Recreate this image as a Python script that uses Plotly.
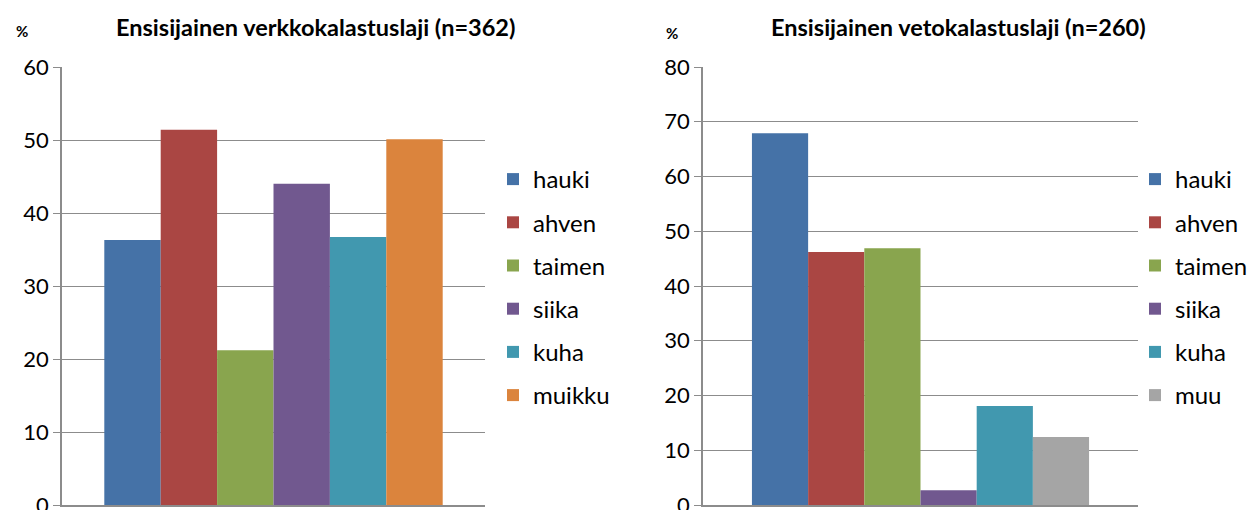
import plotly.graph_objects as go

species_left = ["hauki", "ahven", "taimen", "siika", "kuha", "muikku"]
values_left = [36.3, 51.4, 21.2, 44.0, 36.7, 50.1]
colors_left = ["#4572A7", "#AA4643", "#89A54E", "#71588F", "#4198AF", "#DB843D"]

species_right = ["hauki", "ahven", "taimen", "siika", "kuha", "muu"]
values_right = [67.9, 46.2, 46.9, 2.7, 18.1, 12.4]
colors_right = ["#4572A7", "#AA4643", "#89A54E", "#71588F", "#4198AF", "#A5A5A5"]

title_left = "Ensisijainen verkkokalastuslaji (n=362)"
title_right = "Ensisijainen vetokalastuslaji (n=260)"

FONT = "Lato"
GRID = "#8c8c8c"

fig = go.Figure()

def add_panel(names, vals, cols, xa, ya, legend, group_w):
    n = len(names)
    w = group_w / n
    for i, (nm, v, c) in enumerate(zip(names, vals, cols)):
        fig.add_trace(go.Bar(
            x=[0], y=[v], name=nm, marker=dict(color=c, line=dict(width=0)),
            width=w, offset=-group_w / 2 + i * w,
            xaxis=xa, yaxis=ya, legend=legend, legendgroup=legend + nm,
            hoverinfo="skip",
        ))

add_panel(species_left, values_left, colors_left, "x", "y", "legend", 0.80)
add_panel(species_right, values_right, colors_right, "x2", "y2", "legend2", 0.775)

ybot = (510 - 505) / 510
ytop = (510 - 67) / 510

axis_common = dict(
    showgrid=True, gridcolor=GRID, gridwidth=1,
    showline=True, linecolor=GRID, linewidth=1.5,
    ticks="outside", ticklen=7, tickcolor=GRID,
    tickfont=dict(family=FONT, size=22, color="#000"),
    zeroline=False, domain=[ybot, ytop], automargin=False,
    ticklabeloverflow="allow",
)
xcommon = dict(range=[-0.5, 0.5], showticklabels=False, showgrid=False, automargin=False,
               showline=True, linecolor=GRID, linewidth=1.5, zeroline=False, fixedrange=True)

legend_common = dict(
    font=dict(family=FONT, size=24, color="#000"),
    bgcolor="rgba(0,0,0,0)", tracegroupgap=9, itemclick=False,
    yanchor="top", xanchor="left", traceorder="grouped",
)

fig.update_layout(
    width=1259, height=510,
    margin=dict(l=0, r=0, t=0, b=0, autoexpand=False),
    paper_bgcolor="white", plot_bgcolor="white",
    barmode="overlay", showlegend=True,
    xaxis=dict(domain=[62 / 1259, 485 / 1259], anchor="y", **xcommon),
    yaxis=dict(range=[0, 60], dtick=10, anchor="x", **axis_common),
    xaxis2=dict(domain=[703 / 1259, 1138 / 1259], anchor="y2", **xcommon),
    yaxis2=dict(range=[0, 80], dtick=10, anchor="x2", **axis_common),
    legend=dict(x=493 / 1259, y=(510 - 157) / 510, **legend_common),
    legend2=dict(x=1135 / 1259, y=(510 - 157) / 510, **legend_common),
    annotations=[
        dict(text="<b>" + title_left + "</b>", x=315 / 1259, y=1 - 27 / 510, xref="paper", yref="paper",
             showarrow=False, font=dict(family=FONT, size=23.5, color="#000"), xanchor="center", yanchor="middle"),
        dict(text="<b>" + title_right + "</b>", x=958 / 1259, y=1 - 27 / 510, xref="paper", yref="paper",
             showarrow=False, font=dict(family=FONT, size=23.5, color="#000"), xanchor="center", yanchor="middle"),
        dict(text="<b>%</b>", x=22 / 1259, y=1 - 31 / 510, xref="paper", yref="paper",
             showarrow=False, font=dict(family=FONT, size=15, color="#000"), xanchor="center", yanchor="middle"),
        dict(text="<b>%</b>", x=672 / 1259, y=1 - 33 / 510, xref="paper", yref="paper",
             showarrow=False, font=dict(family=FONT, size=15, color="#000"), xanchor="center", yanchor="middle"),
    ],
)

fig.write_html("out.html", config={"displayModeBar": False},
               post_script="document.body.style.margin='0px';")
